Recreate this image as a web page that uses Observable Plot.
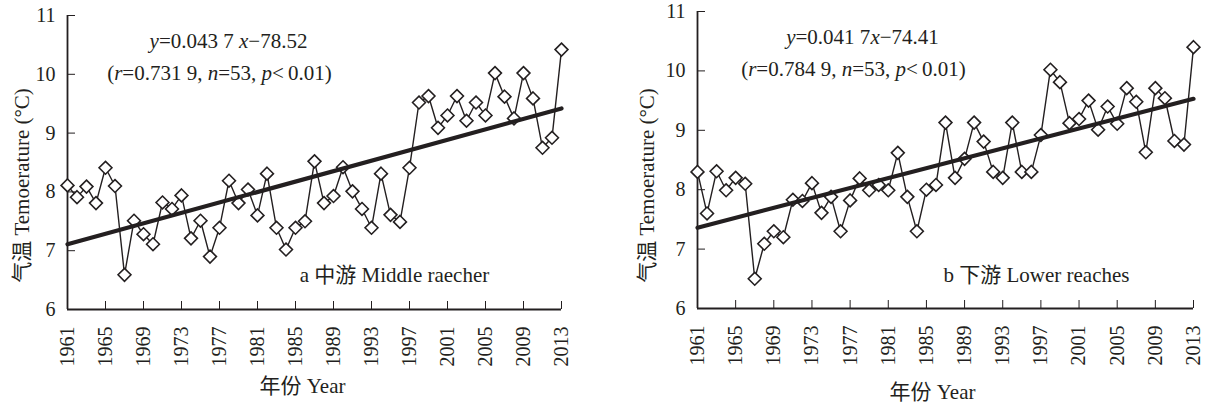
<!DOCTYPE html>
<html>
<head>
<meta charset="utf-8">
<script src="https://cdn.jsdelivr.net/npm/d3@7"></script>
<script src="https://cdn.jsdelivr.net/npm/@observablehq/plot@0.6"></script>
<style>
  html, body { margin: 0; padding: 0; background: #fff; }
  #wrap { display: flex; flex-direction: row; width: 1206px; height: 406px; }
  svg { overflow: visible; }
  #wrap svg, #wrap svg text { font-family: 'Liberation Serif', 'Noto Sans CJK SC', serif !important; }
</style>
</head>
<body>
<div id="wrap"></div>
<script>
const years = [1961,1962,1963,1964,1965,1966,1967,1968,1969,1970,
  1971,1972,1973,1974,1975,1976,1977,1978,1979,1980,
  1981,1982,1983,1984,1985,1986,1987,1988,1989,1990,
  1991,1992,1993,1994,1995,1996,1997,1998,1999,2000,
  2001,2002,2003,2004,2005,2006,2007,2008,2009,2010,
  2011,2012,2013];
const middleTemp = [8.11,7.91,8.09,7.81,8.41,8.10,6.59,7.51,7.28,7.11,
  7.82,7.71,7.94,7.21,7.51,6.90,7.39,8.19,7.81,8.04,
  7.60,8.31,7.39,7.02,7.39,7.50,8.52,7.81,7.93,8.42,
  8.01,7.71,7.39,8.31,7.61,7.49,8.41,9.52,9.63,9.09,
  9.30,9.63,9.21,9.52,9.30,10.02,9.62,9.25,10.02,9.59,
  8.75,8.92,10.42];
const lowerTemp = [8.30,7.60,8.31,7.99,8.20,8.10,6.50,7.09,7.30,7.20,
  7.83,7.81,8.11,7.61,7.88,7.30,7.82,8.19,7.99,8.08,
  7.99,8.62,7.88,7.30,8.00,8.08,9.13,8.20,8.52,9.13,
  8.81,8.30,8.20,9.13,8.30,8.30,8.92,10.02,9.81,9.12,
  9.19,9.50,9.01,9.40,9.11,9.71,9.48,8.63,9.71,9.54,
  8.82,8.76,10.40];
const trendYears = [1961, 2013];
const middleTrend = [7.11, 9.42];
const lowerTrend = [7.36, 9.53];
const xTicks = [1961,1965,1969,1973,1977,1981,1985,1989,1993,1997,2001,2005,2009,2013];
const yTicks = [6,7,8,9,10,11];

const yTitle = "气温 Temoerature (°C)";
const xTitle = "年份 Year";
// rich text: [text, italic]
const middleEq1 = [["y", true], ["=0.043 7 ", false], ["x", true], ["\u221278.52", false]];
const middleEq2 = [["(", false], ["r", true], ["=0.731 9, ", false], ["n", true], ["=53, ", false], ["p", true], ["<\u20090.01)", false]];
const lowerEq1 = [["y", true], ["=0.041 7", false], ["x", true], ["\u221274.41", false]];
const lowerEq2 = [["(", false], ["r", true], ["=0.784 9, ", false], ["n", true], ["=53, ", false], ["p", true], ["<\u20090.01)", false]];
const middleLabel = "a 中游 Middle raecher";
const lowerLabel = "b 下游 Lower reaches";

const ink = "#231f20";
const font = "'Liberation Serif', 'Noto Sans CJK SC', serif";

function plain(parts) { return parts.map(p => p[0]).join(""); }

function panel(cfg) {
  const series = years.map((yr, i) => ({year: yr, temp: cfg.temps[i]}));
  const trend = trendYears.map((yr, i) => ({year: yr, temp: cfg.trend[i]}));
  const svg = Plot.plot({
    width: cfg.width,
    height: 406,
    marginLeft: cfg.marginLeft,
    marginRight: cfg.marginRight,
    marginTop: cfg.marginTop,
    marginBottom: cfg.marginBottom,
    style: {fontFamily: font, fontSize: "20px", color: ink, background: "white", overflow: "visible"},
    x: {domain: [1961, 2013], ticks: xTicks, tickFormat: d => String(d), tickRotate: -90, tickSize: -8, tickPadding: 25, label: null},
    y: {domain: [6, 11], ticks: yTicks, tickFormat: d => String(d), tickSize: -8, tickPadding: 20, label: null},
    marks: [
      Plot.ruleX([1961], {y1: 6, y2: 11, stroke: ink, strokeWidth: 1.8}),
      Plot.ruleY([6], {stroke: ink, strokeWidth: 1.8}),
      Plot.line(series, {x: "year", y: "temp", stroke: ink, strokeWidth: 1.4}),
      Plot.dot(series, {x: "year", y: "temp", symbol: "diamond2", r: 5.8, fill: "white", stroke: ink, strokeWidth: 1.6}),
      Plot.line(trend, {x: "year", y: "temp", stroke: ink, strokeWidth: 4.2}),
      Plot.text([plain(cfg.eq1)], {frameAnchor: "top-left", dx: cfg.eq1dx, dy: cfg.eq1dy, textAnchor: "middle", lineAnchor: "middle", fontSize: 21, fill: ink}),
      Plot.text([plain(cfg.eq2)], {frameAnchor: "top-left", dx: cfg.eq2dx, dy: cfg.eq2dy, textAnchor: "middle", lineAnchor: "middle", fontSize: 21, fill: ink}),
      Plot.text([cfg.label], {frameAnchor: "top-left", dx: cfg.labdx, dy: cfg.labdy, textAnchor: "middle", lineAnchor: "middle", fontSize: 21, fill: ink}),
      Plot.text([xTitle], {frameAnchor: "bottom-left", dx: cfg.xtdx, dy: cfg.xtdy, textAnchor: "middle", lineAnchor: "middle", fontSize: 21, fill: ink}),
      Plot.text([yTitle], {frameAnchor: "top-left", dx: cfg.ytdx, dy: cfg.ytdy, rotate: -90, textAnchor: "middle", lineAnchor: "middle", fontSize: 21, fill: ink})
    ]
  });
  const rich = new Map([[plain(cfg.eq1), cfg.eq1], [plain(cfg.eq2), cfg.eq2]]);
  d3.select(svg).selectAll("text").each(function() {
    const parts = rich.get(this.textContent);
    if (!parts) return;
    const t = d3.select(this);
    t.text(null);
    for (const [s, it] of parts) {
      const sp = t.append("tspan").text(s);
      if (it) sp.attr("font-style", "italic");
    }
  });
  return svg;
}

const wrap = document.getElementById("wrap");
wrap.appendChild(panel({
  temps: middleTemp, trend: middleTrend,
  width: 600, marginLeft: 67, marginRight: 39, marginTop: 15, marginBottom: 97,
  eq1: middleEq1, eq2: middleEq2, label: middleLabel,
  eq1dx: 161, eq1dy: 26, eq2dx: 152, eq2dy: 58,
  labdx: 327, labdy: 260,
  xtdx: 235, xtdy: 77,
  ytdx: -45, ytdy: 170
}));
wrap.appendChild(panel({
  temps: lowerTemp, trend: lowerTrend,
  width: 606, marginLeft: 97, marginRight: 13, marginTop: 11, marginBottom: 98,
  eq1: lowerEq1, eq2: lowerEq2, label: lowerLabel,
  eq1dx: 165, eq1dy: 26, eq2dx: 156, eq2dy: 58,
  labdx: 339, labdy: 264,
  xtdx: 235, xtdy: 84,
  ytdx: -50, ytdy: 174
}));
</script>
</body>
</html>
